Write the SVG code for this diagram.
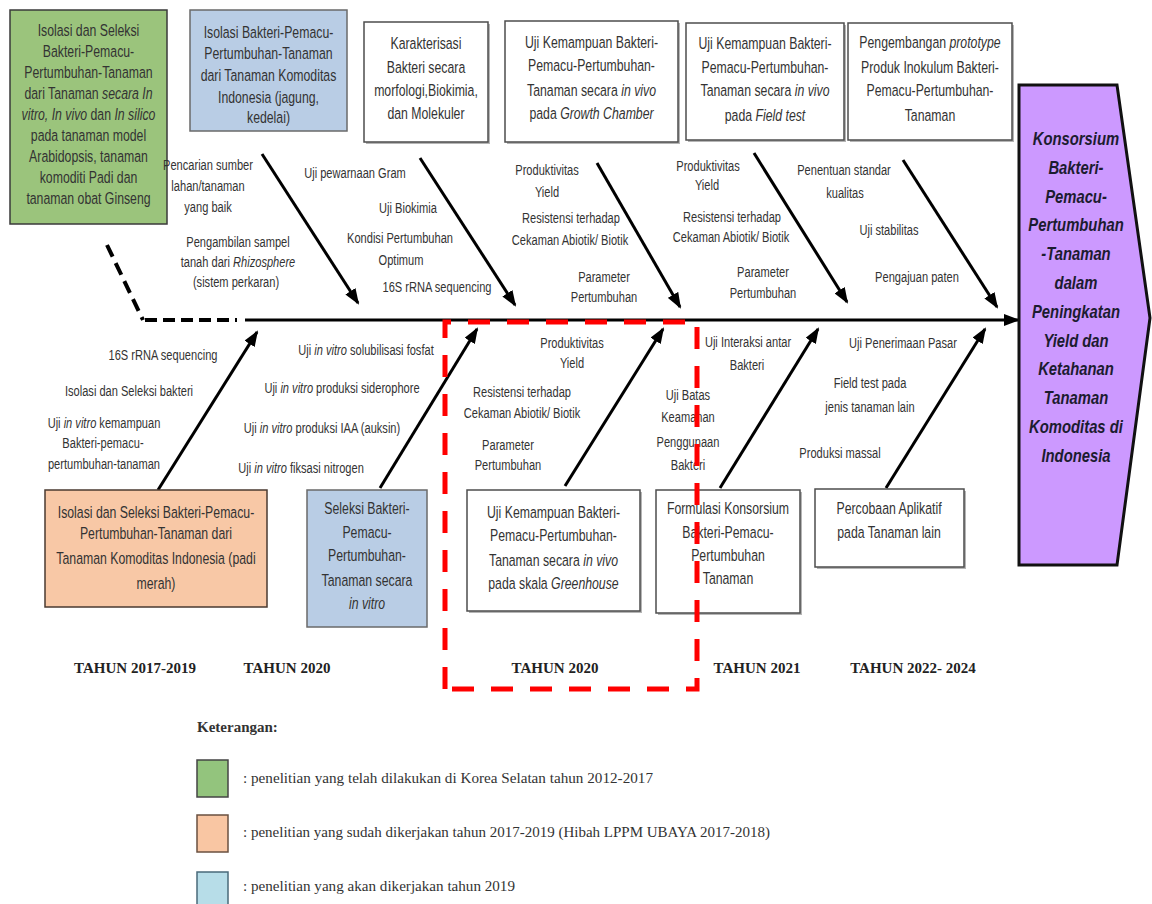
<svg xmlns="http://www.w3.org/2000/svg" width="1152" height="904" viewBox="0 0 1152 904">
<defs>
<style>
.t{font-family:"Liberation Sans",Arial,sans-serif;font-size:16.5px;fill:#333;text-anchor:middle}
.l{font-family:"Liberation Sans",Arial,sans-serif;font-size:15.5px;fill:#333;text-anchor:middle}
.i{font-style:italic}
.p{font-family:"Liberation Sans",Arial,sans-serif;font-size:19px;font-weight:bold;font-style:italic;fill:#1c1c30;text-anchor:middle}
.y{font-family:"Liberation Serif","Times New Roman",serif;font-weight:bold;font-size:15px;fill:#222;text-anchor:middle}
.k{font-family:"Liberation Serif","Times New Roman",serif;font-size:15px;fill:#333}
.w{fill:#fff;stroke:#4d4d4d;stroke-width:1.5}
.sh{fill:#b5b5b5}
.ar{stroke:#000;stroke-width:3;fill:none;marker-end:url(#ah)}
</style>
<marker id="ah" markerUnits="userSpaceOnUse" markerWidth="16" markerHeight="12" refX="14" refY="6" orient="auto">
<path d="M0,0 L16,6 L0,12 z" fill="#000"/>
</marker>
</defs>
<rect width="1152" height="904" fill="#fff"/>

<g id="connectors">
<line x1="107" y1="245" x2="143" y2="320" stroke="#000" stroke-width="4" stroke-dasharray="13 7"/>
<line x1="145" y1="320" x2="237" y2="320" stroke="#000" stroke-width="4" stroke-dasharray="12 6"/>
<line x1="245" y1="320" x2="1018" y2="320" class="ar" stroke-width="4"/>
<line x1="262" y1="154" x2="358" y2="303" class="ar"/>
<line x1="420" y1="158" x2="515" y2="305" class="ar"/>
<line x1="597" y1="163" x2="680" y2="307" class="ar"/>
<line x1="754" y1="153" x2="847" y2="302" class="ar"/>
<line x1="903" y1="160" x2="997" y2="307" class="ar"/>
<line x1="158" y1="490" x2="257" y2="332" class="ar"/>
<line x1="380" y1="488" x2="477" y2="329" class="ar"/>
<line x1="565" y1="486" x2="663" y2="329" class="ar"/>
<line x1="720" y1="488" x2="818" y2="329" class="ar"/>
<line x1="886" y1="488" x2="985" y2="329" class="ar"/>
</g>

<g id="n-green">
<rect x="10" y="10" width="157" height="214" fill="#9bc47c" stroke="#3a3a3a" stroke-width="1.5"/>
<g transform="scale(0.745 1)">
<text class="t" x="118.79" y="36">Isolasi dan Seleksi</text>
<text class="t" x="118.79" y="57">Bakteri-Pemacu-</text>
<text class="t" x="118.79" y="78">Pertumbuhan-Tanaman</text>
<text class="t" x="118.79" y="99">dari Tanaman <tspan class="i">secara In</tspan></text>
<text class="t" x="118.79" y="120"><tspan class="i">vitro, In vivo</tspan> dan <tspan class="i">In silico</tspan></text>
<text class="t" x="118.79" y="141">pada tanaman model</text>
<text class="t" x="118.79" y="162">Arabidopsis, tanaman</text>
<text class="t" x="118.79" y="183">komoditi Padi dan</text>
<text class="t" x="118.79" y="204">tanaman obat Ginseng</text>
</g>
</g>

<g id="n-blue-top">
<rect x="190" y="10" width="157" height="121" fill="#b9cde5" stroke="#6a6a6a" stroke-width="1.5"/>
<g transform="scale(0.745 1)">
<text class="t" x="360.4" y="38">Isolasi Bakteri-Pemacu-</text>
<text class="t" x="360.4" y="59">Pertumbuhan-Tanaman</text>
<text class="t" x="360.4" y="81">dari Tanaman Komoditas</text>
<text class="t" x="360.4" y="103">Indonesia (jagung,</text>
<text class="t" x="360.4" y="123">kedelai)</text>
</g>
</g>

<g id="n-karakterisasi">
<rect class="sh" x="366" y="24" width="124" height="120"/>
<rect class="w" x="364" y="22" width="124" height="120"/>
<g transform="scale(0.745 1)">
<text class="t" x="571.81" y="49">Karakterisasi</text>
<text class="t" x="571.81" y="73">Bakteri secara</text>
<text class="t" x="571.81" y="96">morfologi,Biokimia,</text>
<text class="t" x="571.81" y="119">dan Molekuler</text>
</g>
</g>

<g id="n-growth">
<rect class="sh" x="507" y="23" width="173" height="121"/>
<rect class="w" x="505" y="21" width="173" height="121"/>
<g transform="scale(0.745 1)">
<text class="t" x="793.96" y="48">Uji Kemampuan Bakteri-</text>
<text class="t" x="793.96" y="71">Pemacu-Pertumbuhan-</text>
<text class="t" x="793.96" y="96">Tanaman secara <tspan class="i">in vivo</tspan></text>
<text class="t" x="793.96" y="119">pada <tspan class="i">Growth Chamber</tspan></text>
</g>
</g>

<g id="n-field">
<rect class="sh" x="688" y="25" width="158" height="117"/>
<rect class="w" x="686" y="23" width="158" height="117"/>
<g transform="scale(0.745 1)">
<text class="t" x="1026.85" y="49">Uji Kemampuan Bakteri-</text>
<text class="t" x="1026.85" y="73">Pemacu-Pertumbuhan-</text>
<text class="t" x="1026.85" y="96">Tanaman secara <tspan class="i">in vivo</tspan></text>
<text class="t" x="1026.85" y="121">pada <tspan class="i">Field test</tspan></text>
</g>
</g>

<g id="n-prototype">
<rect class="sh" x="850" y="25" width="164" height="117"/>
<rect class="w" x="848" y="23" width="164" height="117"/>
<g transform="scale(0.745 1)">
<text class="t" x="1248.32" y="48">Pengembangan <tspan class="i">prototype</tspan></text>
<text class="t" x="1248.32" y="73">Produk Inokulum Bakteri-</text>
<text class="t" x="1248.32" y="96">Pemacu-Pertumbuhan-</text>
<text class="t" x="1248.32" y="121">Tanaman</text>
</g>
</g>

<g id="n-goal">
<path d="M1019,85 L1117,85 L1150,318 L1117,565 L1019,565 Z" fill="#cc99ff" stroke="#111" stroke-width="3"/>
<g transform="scale(0.78 1)">
<text class="p" x="1379.49" y="145">Konsorsium</text>
<text class="p" x="1379.49" y="174">Bakteri-</text>
<text class="p" x="1379.49" y="203">Pemacu-</text>
<text class="p" x="1379.49" y="231">Pertumbuhan</text>
<text class="p" x="1379.49" y="260">-Tanaman</text>
<text class="p" x="1379.49" y="289">dalam</text>
<text class="p" x="1379.49" y="318">Peningkatan</text>
<text class="p" x="1379.49" y="347">Yield dan</text>
<text class="p" x="1379.49" y="375">Ketahanan</text>
<text class="p" x="1379.49" y="404">Tanaman</text>
<text class="p" x="1379.49" y="433">Komoditas di</text>
<text class="p" x="1379.49" y="462">Indonesia</text>
</g>
</g>

<g id="labels-top" transform="scale(0.715 1)">
<text class="l" x="290.91" y="170">Pencarian sumber</text>
<text class="l" x="290.91" y="191">lahan/tanaman</text>
<text class="l" x="290.91" y="212">yang baik</text>
<text class="l" x="332.87" y="247">Pengambilan sampel</text>
<text class="l" x="332.87" y="267">tanah dari <tspan class="i">Rhizosphere</tspan></text>
<text class="l" x="330.07" y="287">(sistem perkaran)</text>
<text class="l" x="496.5" y="178">Uji pewarnaan Gram</text>
<text class="l" x="570.63" y="213">Uji Biokimia</text>
<text class="l" x="559.44" y="243">Kondisi Pertumbuhan</text>
<text class="l" x="560.84" y="265">Optimum</text>
<text class="l" x="611.19" y="292">16S rRNA sequencing</text>
<text class="l" x="765.03" y="175">Produktivitas</text>
<text class="l" x="765.03" y="197">Yield</text>
<text class="l" x="798.6" y="223">Resistensi terhadap</text>
<text class="l" x="797.2" y="245">Cekaman Abiotik/ Biotik</text>
<text class="l" x="844.76" y="282">Parameter</text>
<text class="l" x="844.76" y="302">Pertumbuhan</text>
<text class="l" x="990.21" y="171">Produktivitas</text>
<text class="l" x="988.81" y="190">Yield</text>
<text class="l" x="1023.78" y="222">Resistensi terhadap</text>
<text class="l" x="1022.38" y="242">Cekaman Abiotik/ Biotik</text>
<text class="l" x="1067.13" y="277">Parameter</text>
<text class="l" x="1067.13" y="298">Pertumbuhan</text>
<text class="l" x="1180.42" y="175">Penentuan  standar</text>
<text class="l" x="1181.82" y="198">kualitas</text>
<text class="l" x="1243.36" y="235">Uji stabilitas</text>
<text class="l" x="1282.52" y="282">Pengajuan  paten</text>
</g>

<g id="labels-bottom" transform="scale(0.715 1)">
<text class="l" x="227.97" y="360">16S rRNA sequencing</text>
<text class="l" x="180.42" y="396">Isolasi dan Seleksi bakteri</text>
<text class="l" x="145.45" y="428">Uji <tspan class="i">in vitro</tspan> kemampuan</text>
<text class="l" x="144.06" y="448">Bakteri-pemacu-</text>
<text class="l" x="145.45" y="469">pertumbuhan-tanaman</text>
<text class="l" x="511.89" y="355">Uji <tspan class="i">in vitro</tspan> solubilisasi fosfat</text>
<text class="l" x="478.32" y="393">Uji <tspan class="i">in vitro</tspan> produksi siderophore</text>
<text class="l" x="450.35" y="433">Uji <tspan class="i">in vitro</tspan> produksi IAA (auksin)</text>
<text class="l" x="420.98" y="473">Uji <tspan class="i">in vitro</tspan> fiksasi nitrogen</text>
<text class="l" x="800" y="348">Produktivitas</text>
<text class="l" x="800" y="368">Yield</text>
<text class="l" x="730.07" y="397">Resistensi terhadap</text>
<text class="l" x="730.07" y="418">Cekaman Abiotik/ Biotik</text>
<text class="l" x="710.49" y="450">Parameter</text>
<text class="l" x="710.49" y="470">Pertumbuhan</text>
<text class="l" x="962.24" y="400">Uji Batas</text>
<text class="l" x="962.24" y="422">Keamanan</text>
<text class="l" x="962.24" y="447">Penggunaan</text>
<text class="l" x="962.24" y="470">Bakteri</text>
<text class="l" x="1046.15" y="347">Uji Interaksi  antar</text>
<text class="l" x="1044.76" y="370">Bakteri</text>
<text class="l" x="1262.94" y="348">Uji Penerimaan  Pasar</text>
<text class="l" x="1216.78" y="388">Field test pada</text>
<text class="l" x="1216.78" y="412">jenis tanaman lain</text>
<text class="l" x="1174.83" y="458">Produksi massal</text>
</g>

<g id="n-orange">
<rect x="45" y="490" width="222" height="117" fill="#f8c8a6" stroke="#4a3a30" stroke-width="1.5"/>
<g transform="scale(0.745 1)">
<text class="t" x="209.4" y="518">Isolasi dan Seleksi Bakteri-Pemacu-</text>
<text class="t" x="209.4" y="539">Pertumbuhan-Tanaman  dari</text>
<text class="t" x="209.4" y="564">Tanaman Komoditas Indonesia (padi</text>
<text class="t" x="209.4" y="589">merah)</text>
</g>
</g>

<g id="n-blue-bottom">
<rect x="307" y="490" width="120" height="137" fill="#b9cde5" stroke="#6a6a6a" stroke-width="1.5"/>
<g transform="scale(0.745 1)">
<text class="t" x="492.62" y="514">Seleksi Bakteri-</text>
<text class="t" x="492.62" y="538">Pemacu-</text>
<text class="t" x="492.62" y="561">Pertumbuhan-</text>
<text class="t" x="492.62" y="586">Tanaman secara</text>
<text class="t i" x="492.62" y="609">in vitro</text>
</g>
</g>

<g id="n-greenhouse">
<rect class="sh" x="469" y="492" width="173" height="121"/>
<rect class="w" x="467" y="490" width="173" height="121"/>
<g transform="scale(0.745 1)">
<text class="t" x="742.95" y="518">Uji Kemampuan Bakteri-</text>
<text class="t" x="742.95" y="541">Pemacu-Pertumbuhan-</text>
<text class="t" x="742.95" y="566">Tanaman secara <tspan class="i">in vivo</tspan></text>
<text class="t" x="742.95" y="589">pada skala <tspan class="i">Greenhouse</tspan></text>
</g>
</g>

<g id="n-formulasi">
<rect class="sh" x="658" y="492" width="144" height="123"/>
<rect class="w" x="656" y="490" width="144" height="123"/>
<g transform="scale(0.745 1)">
<text class="t" x="977.18" y="514">Formulasi Konsorsium</text>
<text class="t" x="977.18" y="538">Bakteri-Pemacu-</text>
<text class="t" x="977.18" y="561">Pertumbuhan</text>
<text class="t" x="977.18" y="584">Tanaman</text>
</g>
</g>

<g id="n-percobaan">
<rect class="sh" x="817" y="491" width="149" height="78"/>
<rect class="w" x="815" y="489" width="149" height="78"/>
<g transform="scale(0.745 1)">
<text class="t" x="1193.29" y="514">Percobaan  Aplikatif</text>
<text class="t" x="1193.29" y="538">pada Tanaman  lain</text>
</g>
</g>

<g id="years">
<text class="y" x="135" y="673">TAHUN  2017-2019</text>
<text class="y" x="287" y="673">TAHUN  2020</text>
<text class="y" x="555" y="673">TAHUN 2020</text>
<text class="y" x="757" y="673">TAHUN 2021</text>
<text class="y" x="913" y="673">TAHUN 2022- 2024</text>
</g>

<g id="highlight">
<path d="M445,689 L445,322 L697,322 L697,689 Z" fill="none" stroke="#ff0000" stroke-width="5" stroke-dasharray="22 17"/>
</g>

<g id="legend">
<text class="k" x="197" y="732" font-weight="bold">Keterangan:</text>
<rect x="197" y="760" width="31" height="37" fill="#93c47d" stroke="#444" stroke-width="1.5"/>
<text class="k" x="243" y="783" textLength="410" lengthAdjust="spacingAndGlyphs">: penelitian  yang telah  dilakukan  di Korea Selatan  tahun  2012-2017</text>
<rect x="197" y="815" width="31" height="37" fill="#f9c6a3" stroke="#6a5040" stroke-width="1.5"/>
<text class="k" x="243" y="837" textLength="527" lengthAdjust="spacingAndGlyphs">: penelitian  yang  sudah  dikerjakan  tahun  2017-2019 (Hibah  LPPM UBAYA  2017-2018)</text>
<rect x="197" y="872" width="31" height="36" fill="#b7dde8" stroke="#4a6a7a" stroke-width="1.5"/>
<text class="k" x="243" y="891" textLength="272" lengthAdjust="spacingAndGlyphs">: penelitian  yang  akan  dikerjakan  tahun  2019</text>
</g>
</svg>
